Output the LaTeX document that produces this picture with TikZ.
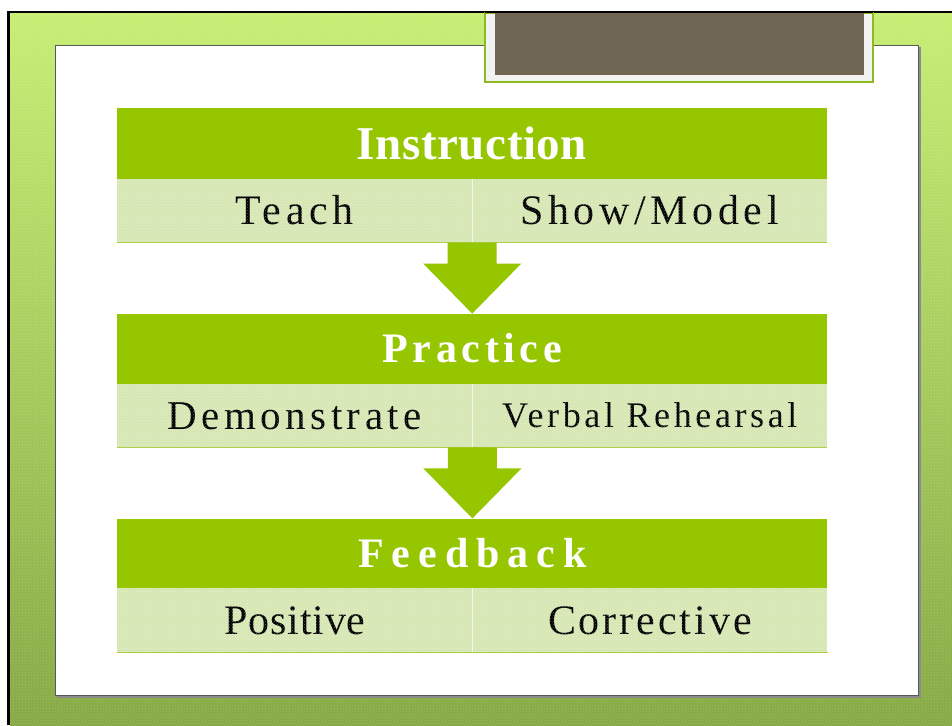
\documentclass[tikz,border=0pt]{standalone}
\usepackage{fontspec}
\setmainfont{Liberation Serif}
\usetikzlibrary{positioning,calc,patterns}

\definecolor{headgreen}{HTML}{96C600}
\definecolor{cellgreen}{HTML}{D6E7B3}
\definecolor{celledge}{HTML}{A9D046}
\definecolor{frametop}{HTML}{C6EE72}
\definecolor{framemid}{HTML}{A9D255}
\definecolor{framebot}{HTML}{86A944}
\definecolor{tabbrown}{HTML}{706656}
\definecolor{tabedge}{HTML}{8DBB1F}

\newcommand{\sized}[2]{\fontsize{#1}{#1}\selectfont\addfontfeatures{LetterSpace=#2}}

\begin{document}
\begin{tikzpicture}[
    x=1pt, y=-1pt,
    head/.style={fill=headgreen, text=white, minimum width=710, inner sep=0pt,
      text height=28pt, text depth=0pt},
    cell/.style={fill=cellgreen, minimum width=355, minimum height=63, inner sep=0pt,
      text height=28pt, text depth=0pt},
    arrowfill/.style={fill=headgreen},
  ]
  \useasboundingbox (0,0) rectangle (952,725);

  % ---- green frame ----
  \shade[top color=frametop, middle color=framemid, bottom color=framebot]
    (10,13) rectangle (952,725);
  \fill[pattern=crosshatch dots, pattern color=white, opacity=0.22]
    (10,13) rectangle (952,725);
  \fill[black] (7,11) rectangle (952,13.5);
  \fill[black] (7,11) rectangle (10,725);

  % ---- white panel ----
  \fill[black!45] (57,47) rectangle (920.5,697.5);
  \draw[fill=white, draw=black!65, line width=0.8] (55,45) rectangle (918,695);

  % ---- title tab ----
  \draw[fill=black!5, draw=tabedge, line width=1.2] (485,13) rectangle (873,82);
  \fill[tabbrown] (495,13) rectangle (864,75);
  \fill[black] (485,11) rectangle (873,13.5);

  % ---- instruction ----
  \node[head, minimum height=71, text height=31.5pt, font=\bfseries\sized{47}{1.2}] (inst) at (472,143.5) {Instruction};
  \node[cell, anchor=north west, font=\sized{42}{11}] (teach) at (inst.south west) {Teach};
  \node[cell, anchor=north east, font=\sized{42}{11}] (show) at (inst.south east) {Show/Model};

  % ---- practice ----
  \node[head, minimum height=70, below=71pt of teach.south east, font=\bfseries\sized{42}{11}] (prac) {Practice};
  \node[cell, anchor=north west, text height=27pt, font=\sized{41}{11}] (demo) at (prac.south west) {Demonstrate};
  \node[cell, anchor=north east, text height=24pt, font=\sized{36}{10}] (verbal) at (prac.south east) {Verbal Rehearsal};

  % ---- feedback ----
  \node[head, minimum height=69, below=71pt of demo.south east, font=\bfseries\sized{42}{19}] (feed) {Feedback};
  \node[cell, anchor=north west, minimum height=64, font=\sized{42}{2}] (pos) at (feed.south west) {Positive};
  \node[cell, anchor=north east, minimum height=64, font=\sized{42}{7}] (corr) at (feed.south east) {Corrective};

  % ---- cell texture and edges ----
  \foreach \l/\r in {teach/show, demo/verbal, pos/corr} {
    \fill[pattern=crosshatch dots, pattern color=white, opacity=0.35]
      (\l.north west) rectangle (\r.south east);
    \draw[white!70!cellgreen, line width=1] (\l.north east) -- (\l.south east);
    \draw[celledge, line width=1.2] (\l.south west) -- (\r.south east);
  }

  % ---- down arrows ----
  \foreach \from/\to in {teach/prac, demo/feed} {
    \coordinate (a) at (\from.south east);
    \fill[arrowfill] ($(a)+(-24.5,0)$) -- ($(a)+(24.5,0)$) -- ($(a)+(24.5,21)$)
      -- ($(a)+(49,21)$) -- (\to.north) -- ($(a)+(-49,21)$) -- ($(a)+(-24.5,21)$) -- cycle;
  }
\end{tikzpicture}
\end{document}
